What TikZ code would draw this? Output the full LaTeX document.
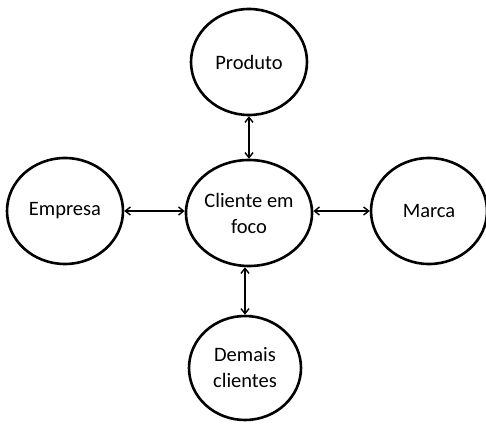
\documentclass[tikz,border=0pt]{standalone}
\usepackage{fontspec}
\setmainfont{Carlito}
\usetikzlibrary{shapes.geometric}
\usetikzlibrary{arrows.meta}

\tikzset{
    bubble/.style={draw, ellipse, line width=2.6pt, minimum width=116pt, minimum height=106pt,
        inner sep=0pt, align=center, font=\fontsize{20.5}{26}\selectfont},
    link/.style={<->, line width=1.4pt, >={Straight Barb[length=5pt, width=8pt]}}
}

\begin{document}
\begin{tikzpicture}[x=1pt, y=1pt]
    \useasboundingbox (0, 0) rectangle (486, 423);

    \node[bubble] (cliente) at (249, 210) {Cliente em\\foco};
    \node[bubble] (produto) at (249, 361) {Produto};
    \node[bubble] (empresa) at (65, 212) {Empresa};
    \node[bubble] (marca) at (429, 212) {Marca};
    \node[bubble, minimum width=112pt, minimum height=104pt] (demais) at (245, 55) {Demais\\clientes};

    \draw[link] (produto.south) -- (cliente.north);
    \draw[link] (empresa.east) -- (cliente.west |- empresa.east);
    \draw[link] (cliente.east |- marca.west) -- (marca.west);
    \draw[link] (cliente.south -| demais.north) -- (demais.north);
\end{tikzpicture}
\end{document}
